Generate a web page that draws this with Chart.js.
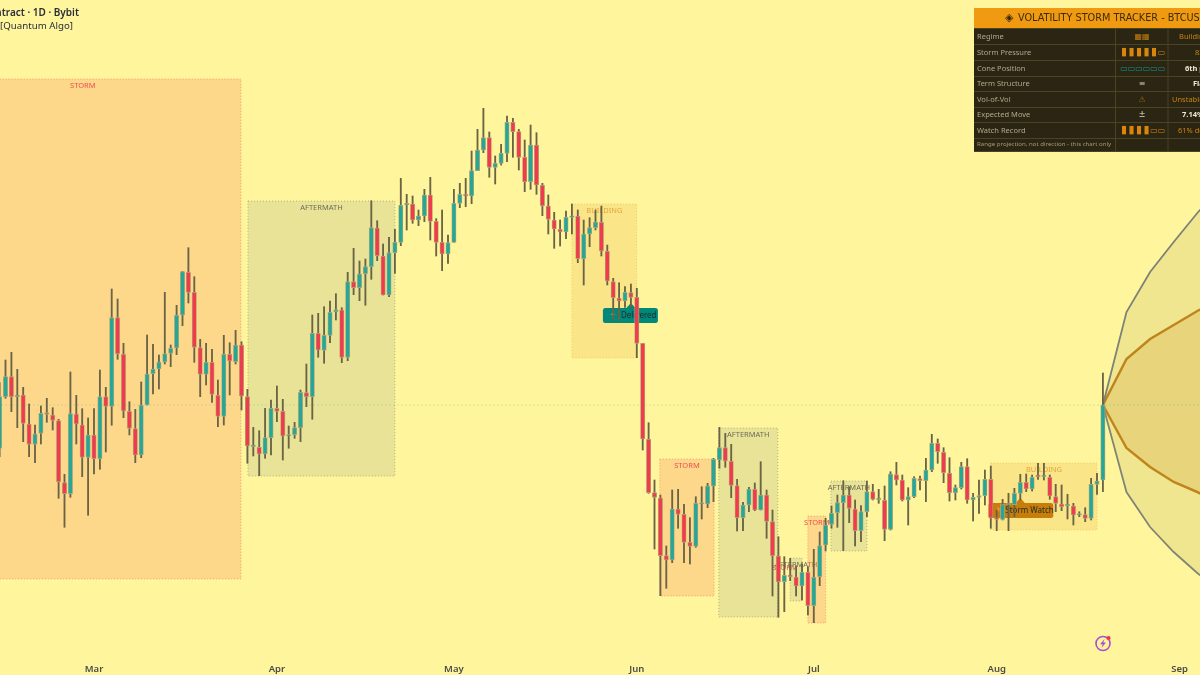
<!DOCTYPE html>
<html><head><meta charset="utf-8">
<style>html,body{margin:0;padding:0;background:#fff59d;overflow:hidden}canvas{display:block;filter:blur(.3px)}</style>
<script src="https://cdn.jsdelivr.net/npm/chart.js@4/dist/chart.umd.min.js"></script>
</head><body><canvas id="c" width="1200" height="675"></canvas>
<script>
const firstIndex=-16;
const opens=[
226.7,278.3,298.3,278.3,280,251,230.7,241.7,262.3,260,
254.3,192.3,181.3,261,250,217.7,240,216.3,278.3,268.7,
357.3,320.7,263.7,246.3,220,270,301.3,306,313,321.7,
327,360,402.7,382.7,327.3,300.7,312.7,279.7,258.7,320.7,
313.3,330,278.3,228.3,227.7,221,237.3,266.7,263.7,239,
240.3,247.3,282.3,278.3,341.7,324.7,339.7,363,365,317.7,
393.3,387.3,401.3,408.3,447,419,380,422.3,432.7,470,
471,455,459,480,453.7,432.7,421,432.7,471.7,480.7,
479,504.3,525,537.3,507.7,511.7,521.7,552.7,543.3,517.7,
493.3,530,489.7,469,455,445.7,443,457.7,459,416.3,
441,447.3,452.7,423.7,393.3,377,374,382.3,377.7,331.7,
235.7,182.3,177,119.3,115,166,160.7,132.7,128.7,171,
171,189,215,227.3,213.7,189.3,157.3,170,185.7,165,
180,153.3,119,93.3,99.7,98,89,102.7,69.3,98.3,
130,150.7,162.3,172.3,180,166,144.3,163.3,183.3,175.3,
174.7,145.7,200.3,195,175,178.3,196.3,194.3,205,231.7,
222.7,201.7,182.3,187.3,208.3,175,177.7,179.3,195.7,157,
155.7,170,170.3,181.7,192.7,186,199,198.3,197.7,178.3,
171,169.3,169,160,160.3,156.7,190.7,195];
const closes=[
278.3,298.3,278.3,280,251.7,230.7,241,261.7,260.7,254.7,
193.3,181.3,261.3,251,217.7,240,216.3,278.3,268.7,357.3,
321.3,264,246.7,220,269.7,301,306,313,321.3,326.7,
359.7,403.3,382.7,327.7,300.7,312.7,280.7,258.7,320.7,314,
330,279,229,229,221,237.3,266.7,263.7,239,240.3,
247.3,282.7,278.3,341.7,325,339.7,362.7,365.3,317.7,393.3,
387.3,401,408.3,447.3,419.3,380,422.3,432.7,469.7,471.7,
455,459,480,453.7,432.7,421,432.3,471.7,480.7,479,
504.3,525,537.3,507.7,511.7,521.7,552.7,543.3,517.7,493.3,
530,490,469.3,455.7,446,443,457.7,459,416.3,441,
447.3,453,424,394,377.3,374,382.7,377.7,331.7,236,
182.3,177.7,119.3,115,166,160.7,132.7,128.7,171.7,171.7,
189,215.7,227.3,214,189.7,157.3,170,186,165,180,
153.7,119.3,93.3,99.7,98.3,89,102.7,69.3,97.7,129.3,
150,161.7,172.3,180,166.7,144.3,163.3,183.3,175.7,176,
145.7,201,195,175,178.3,196.7,194.3,205,231.7,223.3,
202.3,182.3,187.3,208.3,175,177.7,179.3,195.7,157,155.7,
170.3,170.3,181.7,192.7,186,197.7,198.3,199,179,171.7,
168.3,170,160,160.7,156.7,190.7,194,270];
const highs=[
292.3,315,322.7,305.7,287.7,271,250,269,276.7,267.3,
255.7,200.7,303,279.7,266.3,257,266.3,305,287.7,386,
376,331.7,273.3,265.7,293,340,330.7,320,382.7,330,
369.7,403.7,427.3,398.3,335.7,331.7,325.7,295,339.7,332.3,
344.7,333.3,285.7,247.7,244.3,266.7,275,289,275.7,249,
252.7,285,311,360,361.7,368.3,374,381.3,367.3,402.7,
426.7,414,416,474.3,454.3,431,437.7,445.7,496.7,480.7,
479,465,485.7,497.7,456.3,465,440,485.7,491.7,496.7,
524,545.7,566.7,543,519,530.7,559,556.7,545.7,535,
550,542.3,491.7,480,462.7,455,464,471,465,455,
457.3,465,469,430,396.7,392.3,388.3,391,386.7,331.7,
252.3,195,180,129,185,185.7,170.7,157.3,178.3,188.3,
191.7,216.7,247.7,241.7,230.7,195.7,172.7,187.7,192,213.3,
185,165,138.3,118.3,116.7,108.3,111,108.3,125.7,143,
156.7,169,180,194.3,188.3,175,169.3,194,190.7,185.7,
189,203.3,212.7,200,187.3,198.3,199,216.7,240.7,236,
227.3,217.3,190,212.7,216.3,181.7,195,205,209,165,
175.7,181.7,186.7,200.7,201,200,211.7,211.7,200,190.7,
190,180.7,171.7,163.3,167.3,196.7,201.7,302];
const lows=[
218.3,276.7,263.3,247.3,233.3,218.3,212.3,231,252.7,245,
176.7,147.7,177.7,231,198.3,159.7,201,205.7,223,249.7,
315.7,257.3,240,212.3,217.3,270,281,286,311,308.3,
320.3,349.3,372,312.7,278.3,290,272.7,248.3,250,280,
311,265,211.7,219,199.3,216.7,220,253.3,215,226.7,
236.7,233.3,268.3,255.7,317.7,311.7,332.3,355,312.3,314.3,
380.3,374.3,369.7,395.7,414.3,380,378.3,401.7,429.3,445,
451.7,449.3,453.3,435,419,404.3,411.7,432.7,467.3,468.3,
471.3,504.3,522.3,497.7,491,510,513.3,517.7,505,483.3,
485.7,480.7,459.3,441,426.7,429,436.3,441,412.3,390,
428.3,445,419,390,355,354.3,367.7,367.7,317.3,225,
181.7,126,79.3,86.7,112.3,146.7,112.3,111,127.7,156,
167.3,173.3,206.7,207.7,177.3,144,144.3,163.3,164.3,165,
136.7,79,57.7,63.3,94.3,79,75,60,52.3,89.3,
124,146.7,147.7,124.3,152.3,129,133.3,158.3,175,171.7,
134.3,145,190,174,150,177.3,185,173.3,203.3,211.7,
192.3,174,175,186,171.7,154,161.7,170,146.7,144.3,
155,144.3,158.3,175,183.3,184,195.7,195,175.7,163.3,
164.3,156,150,158.3,153.3,155,180.7,183.3];
const monthTicks=[0,31,61,92,122,153,184];
const monthNames=['Mar','Apr','May','Jun','Jul','Aug','Sep'];
const zoneKinds=['STORM','AFTERMATH','BUILDING','STORM','AFTERMATH','STORM','AFTERMATH','STORM','AFTERMATH','BUILDING'];
const zoneStart=[-28.7,26.1,81,95.9,105.9,117.1,118,121,124.9,152];
const zoneEnd=[24.9,51,92,105.1,115.9,117.1,120,124,131,170];
const zoneTop=[596,474,471,216,247,114,117,159,194,212];
const zoneBottom=[96,199,317,79,58,114,74,52,124,145];
const coneIndex=[171,175,179,183,187,191];
const coneOuterUp=[270,363,403,433,462,488];
const coneOuterDown=[270,183,148,123,102,83];
const coneInnerUp=[270,316,336,350,364,376];
const coneInnerDown=[270,227,208,193,183,172];
const lastClose=270;
const signalIndex=[91,157];
const signalPrice=[367,172];
const signalText=['Delivered','Storm Watch'];
const signalIcon=['✦','♦'];
const titleLines=['BTCUSDT Perpetual Contract · 1D · Bybit','Volatility Storm Tracker [Quantum Algo]'];
const tableTitle='VOLATILITY STORM TRACKER - BTCUSDT.P';
const tableRows=['Regime','Storm Pressure','Cone Position','Term Structure','Vol-of-Vol','Expected Move','Watch Record'];
const tableGlyphs=['▦▦','▮▮▮▮▮▭','▭▭▭▭▭▭','≡','⚠','±','▮▮▮▮▭▭'];
const tableValues=['Building','83%','6th pctl','Flat','Unstable','7.14%','61% delivered'];
const tableFoot='Range projection, not direction - this chart only';

const idx=opens.map((_,i)=>firstIndex+i);
const up=i=>closes[i]>=opens[i];
const TEAL='#26a69a',RED='#ef3b4d';
const zoneStyle={STORM:{f:'rgba(250,150,100,.3)',s:'rgba(239,83,80,.5)',t:'#ef4d4d'},AFTERMATH:{f:'rgba(120,144,120,.17)',s:'rgba(100,110,90,.45)',t:'#6d6c58'},BUILDING:{f:'rgba(230,170,60,.2)',s:'rgba(240,160,40,.45)',t:'#e3a33a'}};
const FONT='"Noto Sans",sans-serif';

const overlays={id:'overlays',
 beforeDatasetsDraw(ch){
  const c=ch.ctx,x=ch.scales.x,y=ch.scales.y;
  c.save();
  zoneKinds.forEach((k,i)=>{
   const st=zoneStyle[k],x0=x.getPixelForValue(zoneStart[i]),x1=x.getPixelForValue(zoneEnd[i]),y0=y.getPixelForValue(zoneTop[i]),y1=y.getPixelForValue(zoneBottom[i]);
   if(x1>x0){c.fillStyle=st.f;c.fillRect(x0,y0,x1-x0,y1-y0);
    c.strokeStyle=st.s;c.lineWidth=1;c.setLineDash([1,2]);c.strokeRect(x0,y0,x1-x0,y1-y0);c.setLineDash([]);}
   c.fillStyle=st.t;c.font='7.5px '+FONT;c.textAlign='center';c.textBaseline='middle';
   c.fillText(k,(x0+x1)/2,y0+6.5);
  });
  signalText.forEach((t,i)=>{
   const sx=x.getPixelForValue(signalIndex[i]),sy=y.getPixelForValue(signalPrice[i]);
   const fill=i===0?'#00897b':'#c77d0a';
   const left=i===0?sx-28:sx-32,w=i===0?55:65;
   c.fillStyle=fill;c.beginPath();c.roundRect(left,sy,w,15,2.5);c.fill();
   c.beginPath();c.moveTo(sx-5,sy+.5);c.lineTo(sx,sy-5);c.lineTo(sx+5,sy+.5);c.closePath();c.fill();
   c.fillStyle='#f08a24';c.font='7.5px "DejaVu Sans"';c.textAlign='center';c.textBaseline='middle';
   c.fillText(signalIcon[i],left+10,sy+7.5);
   c.fillStyle='#1f2a2a';c.font='8px '+FONT;c.textAlign='left';
   c.fillText(t,left+(i===0?18:17),sy+7.5);
  });
  c.restore();
 },
 afterDraw(ch){
  const c=ch.ctx;c.save();
  c.textBaseline='middle';
  c.fillStyle='#2a2e39';c.textAlign='right';
  c.font='600 10px '+FONT;c.fillText(titleLines[0],79,13);
  c.font='9.7px '+FONT;c.fillText(titleLines[1],73,26);
  const L=974,R=1200,colA=1115.5,colB=1168;
  const rowY=[28,44,60,76,91,107,122,138,151];
  c.fillStyle='#2b2513';c.fillRect(L,28,R-L,123);
  c.fillStyle='#f09a12';c.fillRect(L,8,R-L,20);
  c.strokeStyle='#4c4320';c.lineWidth=1;
  rowY.forEach(v=>{c.beginPath();c.moveTo(L,v+.5);c.lineTo(R,v+.5);c.stroke();});
  [colA,colB].forEach(v=>{c.beginPath();c.moveTo(v,28);c.lineTo(v,151);c.stroke();});
  c.textAlign='left';
  c.fillStyle='#3a2c08';c.font='11px "DejaVu Sans"';c.fillText('◈',1005,18);
  c.font='9.7px "DejaVu Sans"';c.fillText(tableTitle,1018,18);
  const valX=[1179,1195,1185,1193,1172,1182,1178];
  const glyphCol=['#c9820f','#d9860b','#159a8c','#d8d2b8','#9c6a12','#e4dfc8','#d9860b'];
  const valCol=['#c9820f','#c9820f','#efe9d0','#efe9d0','#c9820f','#efe9d0','#c9820f'];
  tableRows.forEach((t,i)=>{
   const cy=(rowY[i]+rowY[i+1])/2+.5;
   c.textAlign='left';c.fillStyle='#b3a987';c.font='7.5px '+FONT;c.fillText(t,977,cy);
   c.fillStyle=glyphCol[i];c.textAlign='center';
   const g=tableGlyphs[i];
   if(g.length===6){
    [...g].forEach((ch2,k)=>{c.font=(ch2==='▮'?11:8)+'px "DejaVu Sans"';c.fillText(ch2,1124+7.5*k,cy);});
   } else {
    c.font='8px "DejaVu Sans"';c.fillText(g,1142,cy);
   }
   c.textAlign='left';c.fillStyle=valCol[i];c.font=(valCol[i]==='#efe9d0'?'bold ':'')+'7.5px '+FONT;c.fillText(tableValues[i],valX[i],cy);
  });
  c.fillStyle='#a39a79';c.font='6.1px '+FONT;c.fillText(tableFoot,977,144.5);
  const bx=1103,by=643.5;
  c.strokeStyle='#a94fd0';c.lineWidth=1.6;c.beginPath();c.arc(bx,by,7,0,Math.PI*2);c.stroke();
  c.fillStyle='#a94fd0';c.beginPath();c.moveTo(bx+1.5,by-4.5);c.lineTo(bx-3,by+.8);c.lineTo(bx-.3,by+.8);c.lineTo(bx-1.5,by+4.5);c.lineTo(bx+3,by-1);c.lineTo(bx+.3,by-1);c.closePath();c.fill();
  c.fillStyle='#f0344a';c.beginPath();c.arc(bx+5.5,by-5.5,2.1,0,Math.PI*2);c.fill();
  c.restore();
 }};

const coneLine=(arr,color,w,fill,bg)=>({type:'line',data:coneIndex.map((v,i)=>({x:v,y:arr[i]})),borderColor:color,borderWidth:w,pointRadius:0,tension:0,fill:fill,backgroundColor:bg,order:3});

new Chart(document.getElementById('c'),{
 type:'bar',
 plugins:[overlays],
 data:{datasets:[
  coneLine(coneOuterUp,'#7c8278',1.8,{target:1},'rgba(180,170,90,.2)'),
  coneLine(coneOuterDown,'#7c8278',1.8,false,'transparent'),
  coneLine(coneInnerUp,'#c27c0e',2.5,{target:3},'rgba(200,130,20,.19)'),
  coneLine(coneInnerDown,'#c27c0e',2.5,false,'transparent'),
  {type:'line',data:[{x:firstIndex-1,y:lastClose},{x:190,y:lastClose}],borderColor:'rgba(38,166,154,.42)',borderWidth:1,borderDash:[1,3],pointRadius:0,fill:false,order:0},
  {label:'wick',data:idx.map((v,i)=>({x:v,y:[lows[i],highs[i]]})),backgroundColor:'#6a6345',borderWidth:0,barThickness:1.2,grouped:false,order:2},
  {label:'body',data:idx.map((v,i)=>({x:v,y:[opens[i],closes[i]]})),backgroundColor:idx.map((v,i)=>up(i)?TEAL:RED),borderColor:'#b8ab74',borderWidth:.8,borderSkipped:false,barThickness:4.4,grouped:false,minBarLength:1.5,order:1}
 ]},
 options:{
  responsive:false,animation:false,devicePixelRatio:1,
  layout:{padding:0},
  plugins:{legend:{display:false},tooltip:{enabled:false},title:{display:false}},
  scales:{
   x:{type:'linear',min:-94/5.9,max:(1200-94)/5.9,offset:false,grid:{display:false},border:{display:false},
    afterBuildTicks(s){s.ticks=monthTicks.map(v=>({value:v}));},
    afterFit(s){s.height=25;},
    ticks:{autoSkip:false,maxRotation:0,padding:6,color:'#4a4a4a',font:{family:'"Noto Sans"',size:9.5,weight:'600'},
     callback(v){const k=monthTicks.indexOf(v);return k<0?'':monthNames[k];}}},
   y:{display:false,min:25,max:675}
  }
 }
});
</script></body></html>
